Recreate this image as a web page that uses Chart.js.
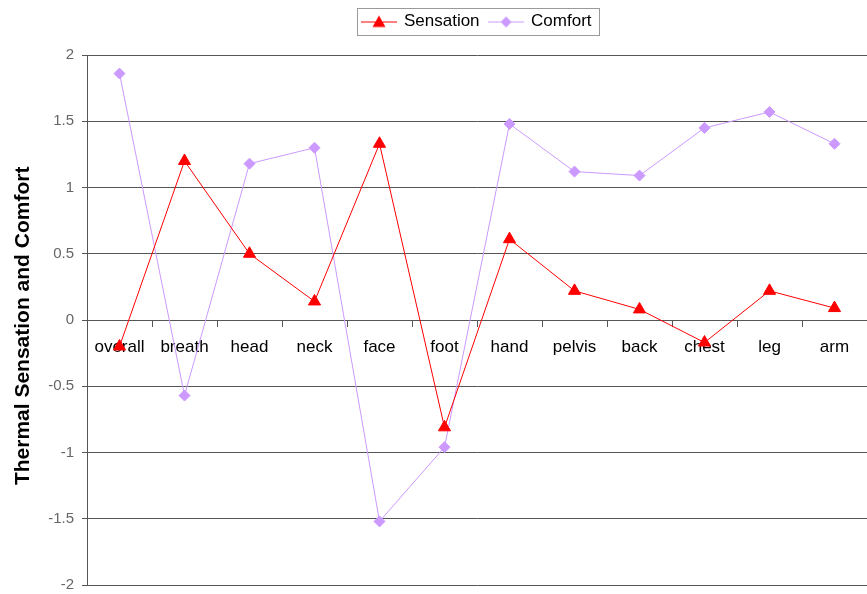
<!DOCTYPE html>
<html>
<head>
<meta charset="utf-8">
<script src="https://cdn.jsdelivr.net/npm/chart.js@4.4.0/dist/chart.umd.min.js"></script>
<style>
  html, body { margin: 0; padding: 0; background: #fff; }
</style>
</head>
<body>
<canvas id="chart" width="867" height="594"></canvas>
<script>
// values
const categories = ["overall", "breath", "head", "neck", "face", "foot", "hand", "pelvis", "back", "chest", "leg", "arm"];
const sensation = [-0.2, 1.2, 0.5, 0.14, 1.33, -0.81, 0.61, 0.22, 0.08, -0.17, 0.22, 0.09];
const comfort = [1.86, -0.57, 1.18, 1.30, -1.52, -0.96, 1.48, 1.12, 1.09, 1.45, 1.57, 1.33];
const yTicks = [-2, -1.5, -1, -0.5, 0, 0.5, 1, 1.5, 2];

const RED = "#FF0000";
const VIOLET = "#CC99FF";
const GRID = "#555555";

Chart.defaults.font.family = '"Liberation Sans", Arial, sans-serif';

// legend glyph: short line with the marker in the middle
function legendIcon(color, shape) {
  const c = document.createElement("canvas");
  c.width = 36; c.height = 16;
  const g = c.getContext("2d");
  g.strokeStyle = color; g.lineWidth = 1;
  g.beginPath(); g.moveTo(0, 8.5); g.lineTo(36, 8.5); g.stroke();
  g.fillStyle = color;
  g.beginPath();
  if (shape === "triangle") {
    g.moveTo(18, 2); g.lineTo(24.5, 13.5); g.lineTo(11.5, 13.5);
  } else {
    g.moveTo(18, 3); g.lineTo(23.5, 8.5); g.lineTo(18, 14); g.lineTo(12.5, 8.5);
  }
  g.closePath(); g.fill();
  return c;
}
const icons = [legendIcon(RED, "triangle"), legendIcon(VIOLET, "diamond")];

// extra space under the legend + a frame around it
const legendFrame = {
  id: "legendFrame",
  beforeLayout(chart) {
    const lg = chart.legend;
    if (lg && !lg._patched) {
      const fit = lg.fit;
      lg.fit = function () { fit.call(this); this.height += 15; };
      lg._patched = true;
    }
  },
  afterDraw(chart) {
    const boxes = chart.legend && chart.legend.legendHitBoxes;
    if (!boxes || !boxes.length) return;
    const left = Math.min(...boxes.map(b => b.left));
    const right = Math.max(...boxes.map(b => b.left + b.width));
    const top = Math.min(...boxes.map(b => b.top));
    const bottom = Math.max(...boxes.map(b => b.top + b.height));
    const ctx = chart.ctx;
    ctx.save();
    ctx.strokeStyle = "#9a9a9a";
    ctx.lineWidth = 1;
    ctx.strokeRect(Math.round(left - 5) + 0.5, Math.round(top - 5) + 0.5, Math.round(right - left + 13), Math.round(bottom - top + 10));
    ctx.restore();
  }
};

new Chart(document.getElementById("chart"), {
  type: "line",
  data: {
    labels: categories,
    datasets: [{
      label: "Sensation",
      data: sensation,
      borderColor: RED,
      backgroundColor: RED,
      borderWidth: 1,
      pointStyle: "triangle",
      pointRadius: 7,
      pointBorderWidth: 1,
      tension: 0
    }, {
      label: "Comfort",
      data: comfort,
      borderColor: VIOLET,
      backgroundColor: VIOLET,
      borderWidth: 1,
      pointStyle: "rectRot",
      pointRadius: 5.5,
      pointBorderWidth: 1,
      tension: 0
    }]
  },
  options: {
    responsive: false,
    devicePixelRatio: 1,
    animation: false,
    layout: { autoPadding: false, padding: { top: 3, right: 0, bottom: 9, left: 0 } },
    plugins: {
      tooltip: { enabled: false },
      legend: {
        position: "top",
        fullSize: false,
        labels: {
          usePointStyle: true,
          pointStyleWidth: 33,
          padding: 10,
          color: "#000",
          font: { size: 17 },
          generateLabels(chart) {
            const items = Chart.defaults.plugins.legend.labels.generateLabels(chart);
            items.forEach((it, i) => { it.pointStyle = icons[i]; });
            return items;
          }
        }
      }
    },
    scales: {
      x: {
        type: "category",
        position: { y: 0 },
        offset: true,
        afterFit(scale) { scale.paddingLeft = 0; scale.paddingRight = 0; },
        grid: { drawOnChartArea: false, drawTicks: true, tickLength: 6, color: GRID, offset: true },
        border: { color: GRID, width: 1 },
        ticks: { color: "#000", font: { size: 17 }, padding: 11, maxRotation: 0, autoSkip: false }
      },
      y: {
        position: "left",
        min: -2,
        max: 2,
        afterBuildTicks(scale) { scale.ticks = yTicks.map(v => ({ value: v })); },
        afterFit(scale) { scale.width = 87; scale.paddingTop = 0; scale.paddingBottom = 0; },
        grid: { color: GRID, tickLength: 5 },
        border: { color: GRID, width: 1 },
        ticks: { color: "#666", font: { size: 15 }, padding: 8, callback: v => String(v) },
        title: {
          display: true,
          text: "Thermal Sensation and Comfort  ",
          color: "#000",
          font: { size: 21, weight: "bold" },
          padding: { top: 11, bottom: 0 }
        }
      }
    }
  },
  plugins: [legendFrame]
});
</script>
</body>
</html>
